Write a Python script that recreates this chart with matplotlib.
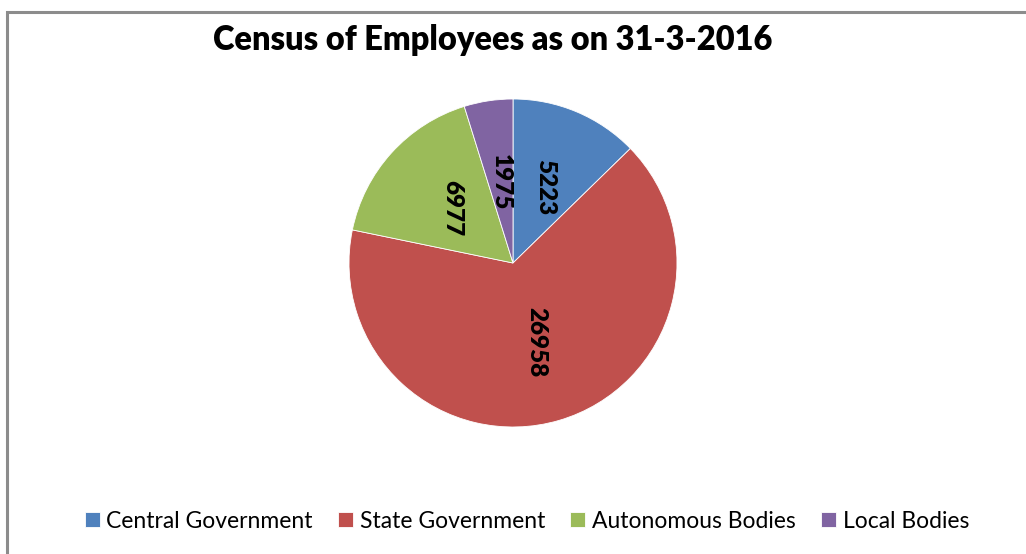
import matplotlib
matplotlib.use('Agg')
import matplotlib.pyplot as plt
from matplotlib.patches import Rectangle

# data
categories = ['Central Government', 'State Government', 'Autonomous Bodies', 'Local Bodies']
employees = [5223, 26958, 6977, 1975]
colors = ['#4F81BD', '#C0504D', '#9BBB59', '#8064A2']

plt.rcParams['font.family'] = ['Lato', 'DejaVu Sans']

W, H = 1026, 554
fig = plt.figure(figsize=(W / 100, H / 100), dpi=100)

# gray border of the chart area (runs off right and bottom)
fig.patches.append(Rectangle((7 / W, -0.1), 1.2, (H - 12) / H + 0.1, transform=fig.transFigure,
                             fill=False, edgecolor='#8c8c8c', linewidth=2.2))

# pie axes: center (513, 263), radius 164 px
cx, cy, r = 513, 263, 164
ax = fig.add_axes([(cx - r) / W, (H - cy - r) / H, 2 * r / W, 2 * r / H])
wedges, texts = ax.pie(employees, colors=colors, startangle=90, counterclock=False,
                       labels=[str(v) for v in employees], labeldistance=0.5,
                       rotatelabels=False,
                       textprops=dict(fontsize=17.5, fontweight='heavy', rotation=-90,
                                      ha='center', va='center'),
                       wedgeprops=dict(edgecolor='white', linewidth=0.6))
for t in texts:
    t.set_ha('center')
    t.set_va('center')
ax.set_xlim(-1, 1)
ax.set_ylim(-1, 1)
ax.set_aspect('equal')
ax.axis('off')

fig.text(493 / W, 1 - 40 / H, 'Census of Employees as on 31-3-2016', ha='center', va='center',
         fontsize=23.5, fontweight='heavy')

fig.legend(wedges, categories, loc='center', bbox_to_anchor=(527 / W, 1 - 521 / H), ncol=4,
           frameon=False, fontsize=16.5, handlelength=0.65, handleheight=0.65, handletextpad=0.3,
           columnspacing=1.1)

fig.savefig('out.png', dpi=100, facecolor='white')
